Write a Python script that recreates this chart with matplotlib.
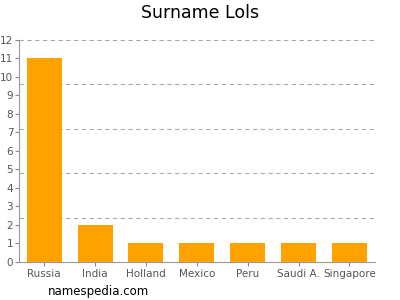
import matplotlib
matplotlib.use("Agg")
import matplotlib.pyplot as plt
import numpy as np

categories = ["Russia", "India", "Holland", "Mexico", "Peru", "Saudi A.", "Singapore"]
values = [11, 2, 1, 1, 1, 1, 1]
yticks = list(range(0, 13))
grid_levels = [2.4, 4.8, 7.2, 9.6, 12]

fig = plt.figure(figsize=(4, 3), dpi=100)
ax = fig.add_axes([0.047, 0.1267, 0.89, 0.74])
x = np.arange(len(categories))
ax.bar(x, values, width=0.69, color="#FFA200", zorder=3)
for g in grid_levels:
    ax.axhline(g, color="#aaaaaa", linestyle=(0, (4, 3)), linewidth=0.8, zorder=1)
ax.set_xlim(-0.5, len(categories) - 0.5)
ax.set_ylim(0, 12)
ax.set_yticks(yticks)
ax.set_xticks(x)
ax.set_xticklabels(categories)
ax.tick_params(axis="both", colors="#888888", labelcolor="#555555", labelsize=7.5, length=3, width=0.8, pad=1)
ax.tick_params(axis="x", pad=2)
for s in ["top", "right"]:
    ax.spines[s].set_visible(False)
for s in ["left", "bottom"]:
    ax.spines[s].set_color("#999999")
    ax.spines[s].set_linewidth(0.8)
fig.text(0.5, 0.955, "Surname Lols", ha="center", va="center", fontsize=12.5, color="#000000")
fig.text(0.12, 0.027, "namespedia.com", ha="left", va="center", fontsize=8.5, color="#000000")
fig.savefig("out.png", dpi=100)
